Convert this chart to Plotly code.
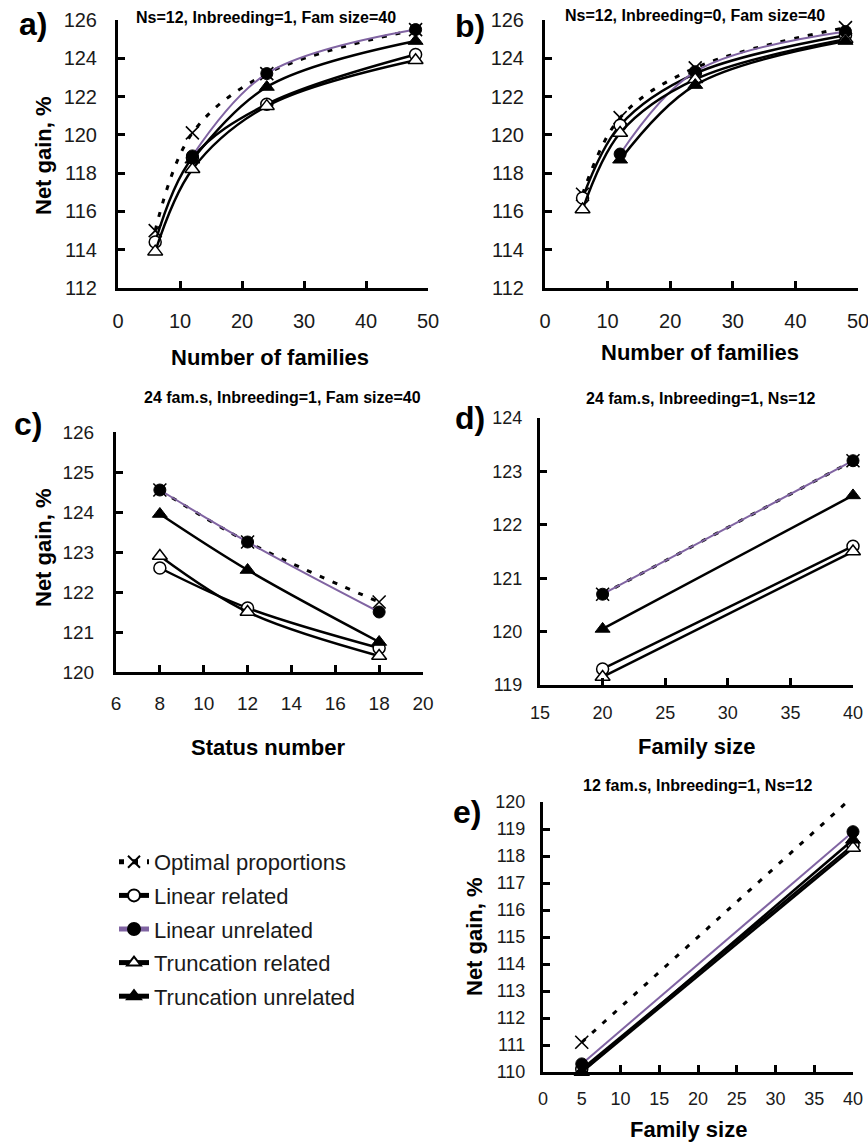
import plotly.graph_objects as go

# ---------------- data ----------------
series_names = ["Optimal proportions", "Linear related", "Linear unrelated",
                "Truncation related", "Truncation unrelated"]

# a) Ns=12, Inbreeding=1, Fam size=40
a_x = [6, 12, 24, 48]
a_optimal = [115.0, 120.1, 123.2, 125.5]
a_lin_rel = [114.4, 118.8, 121.6, 124.2]
a_lin_unrel = [None, 118.9, 123.2, 125.5]
a_trunc_rel = [113.9, 118.2, 121.5, 123.9]
a_trunc_unrel = [None, 118.7, 122.5, 124.9]

# b) Ns=12, Inbreeding=0, Fam size=40
b_x = [6, 12, 24, 48]
b_optimal = [116.9, 120.9, 123.5, 125.6]
b_lin_rel = [116.7, 120.5, 123.2, 125.2]
b_lin_unrel = [None, 119.0, 123.3, 125.4]
b_trunc_rel = [116.1, 120.1, 122.9, 125.0]
b_trunc_unrel = [None, 118.7, 122.6, 124.9]

# c) 24 fam.s, Inbreeding=1, Fam size=40
c_x = [8, 12, 18]
c_optimal = [124.55, 123.25, 121.75]
c_lin_rel = [122.6, 121.6, 120.6]
c_lin_unrel = [124.55, 123.25, 121.5]
c_trunc_rel = [122.9, 121.5, 120.4]
c_trunc_unrel = [123.95, 122.55, 120.75]

# d) 24 fam.s, Inbreeding=1, Ns=12
d_x = [20, 40]
d_optimal = [120.7, 123.2]
d_lin_rel = [119.3, 121.6]
d_lin_unrel = [120.7, 123.2]
d_trunc_rel = [119.15, 121.5]
d_trunc_unrel = [120.05, 122.55]

# e) 12 fam.s, Inbreeding=1, Ns=12
e_x = [5, 40]
e_optimal = [111.1, 120.2]
e_lin_rel = [110.1, 118.4]
e_lin_unrel = [110.3, 118.9]
e_trunc_rel = [110.0, 118.3]
e_trunc_unrel = [110.0, 118.6]

panel_titles = ["Ns=12, Inbreeding=1, Fam size=40",
                "Ns=12, Inbreeding=0, Fam size=40",
                "24 fam.s, Inbreeding=1, Fam size=40",
                "24 fam.s, Inbreeding=1, Ns=12",
                "12 fam.s, Inbreeding=1, Ns=12"]
panel_letters = ["a)", "b)", "c)", "d)", "e)"]
x_titles = ["Number of families", "Number of families", "Status number",
            "Family size", "Family size"]

# ---------------- styling ----------------
W, H = 868, 1144
PURPLE = "#8064a2"
BLACK = "#000000"
TXT = "#1a1a1a"
TICKFONT = "Liberation Sans Narrow, Arial Narrow, Liberation Sans, Arial, sans-serif"
FONT = "Liberation Sans, Arial, sans-serif"

styles = [
    dict(line=dict(color=BLACK, width=3, dash="5px,9px"),
         marker=dict(symbol="x-thin", size=13, color=BLACK,
                     line=dict(color=BLACK, width=1.6))),
    dict(line=dict(color=BLACK, width=2.5),
         marker=dict(symbol="circle", size=12, color="white",
                     line=dict(color=BLACK, width=1.5))),
    dict(line=dict(color=PURPLE, width=2),
         marker=dict(symbol="circle", size=12, color=BLACK,
                     line=dict(color=BLACK, width=1))),
    dict(line=dict(color=BLACK, width=2.5),
         marker=dict(symbol="triangle-up", size=13, color="white",
                     line=dict(color=BLACK, width=1.5))),
    dict(line=dict(color=BLACK, width=2.5),
         marker=dict(symbol="triangle-up", size=13, color=BLACK,
                     line=dict(color=BLACK, width=1))),
]

panels = [
    (a_x, [a_optimal, a_lin_rel, a_lin_unrel, a_trunc_rel, a_trunc_unrel]),
    (b_x, [b_optimal, b_lin_rel, b_lin_unrel, b_trunc_rel, b_trunc_unrel]),
    (c_x, [c_optimal, c_lin_rel, c_lin_unrel, c_trunc_rel, c_trunc_unrel]),
    (d_x, [d_optimal, d_lin_rel, d_lin_unrel, d_trunc_rel, d_trunc_unrel]),
    (e_x, [e_optimal, e_lin_rel, e_lin_unrel, e_trunc_rel, e_trunc_unrel]),
]

# pixel boxes in the page: (left, right, top, bottom)
boxes = [(118, 428, 20, 288), (545, 858, 20, 288), (116, 423, 432, 672),
         (540, 853, 418, 685), (543, 853, 802, 1072)]
x_ranges = [[0, 50], [0, 50], [6, 20], [15, 40], [0, 40]]
y_ranges = [[112, 126], [112, 126], [120, 126], [119, 124], [110, 120]]
x_dticks = [10, 10, 2, 5, 5]
y_dticks = [2, 2, 1, 1, 1]
tick_sizes = [20, 20, 19, 18, 18]
x_standoff = [13, 13, 12, 9, 8]
y_standoff = [14, 14, 15, 11, 11]


def fx(px):
    return px / W


def fy(py):
    return 1 - py / H


fig = go.Figure()
for p, (xs, ys_list) in enumerate(panels):
    xa = "x" if p == 0 else f"x{p+1}"
    ya = "y" if p == 0 else f"y{p+1}"
    for s, ys in enumerate(ys_list):
        clip = (p == 4 and s == 0)
        fig.add_trace(go.Scatter(
            x=xs, y=ys, mode="lines+markers", name=series_names[s],
            xaxis=xa, yaxis=ya, line_shape="spline",
            line=styles[s]["line"], marker=styles[s]["marker"],
            legendgroup=series_names[s], showlegend=(p == 0),
            cliponaxis=clip, connectgaps=False))

layout = dict(
    width=W, height=H, paper_bgcolor="white", plot_bgcolor="white",
    margin=dict(l=0, r=0, t=0, b=0), showlegend=True,
    font=dict(family=FONT, color=TXT),
    legend=dict(x=fx(114), y=fy(841), xanchor="left", yanchor="top",
                font=dict(size=22, family=FONT, color=TXT),
                tracegroupgap=2, itemsizing="constant",
                bgcolor="rgba(0,0,0,0)", borderwidth=0),
)
annotations = []
for p in range(5):
    l, r, t, b = boxes[p]
    xk = "xaxis" if p == 0 else f"xaxis{p+1}"
    yk = "yaxis" if p == 0 else f"yaxis{p+1}"
    ya = "y" if p == 0 else f"y{p+1}"
    xa = "x" if p == 0 else f"x{p+1}"
    common = dict(showgrid=False, zeroline=False, showline=True,
                  linecolor=BLACK, linewidth=3, ticks="inside", ticklen=7,
                  tickwidth=2.5, tickcolor=BLACK, automargin=False,
                  ticklabeloverflow="allow",
                  tickfont=dict(family=TICKFONT, size=tick_sizes[p], color=TXT))
    layout[xk] = dict(common, domain=[fx(l), fx(r)], range=x_ranges[p],
                      dtick=x_dticks[p], tick0=0, anchor=ya,
                      ticklabelstandoff=x_standoff[p])
    layout[yk] = dict(common, domain=[fy(b), fy(t)], range=y_ranges[p],
                      dtick=y_dticks[p], anchor=xa,
                      ticklabelstandoff=y_standoff[p])

# panel titles
title_pos = [(266, 18), (695, 15), (282, 397), (701, 398), (698, 785)]
for p in range(5):
    annotations.append(dict(text=f"<b>{panel_titles[p]}</b>", x=fx(title_pos[p][0]),
                            y=fy(title_pos[p][1]), xref="paper", yref="paper",
                            showarrow=False, xanchor="center", yanchor="middle",
                            font=dict(size=16, family=FONT, color=BLACK)))
# panel letters
letter_pos = [(33, 24), (470, 26), (28, 424), (470, 418), (467, 812)]
for p in range(5):
    annotations.append(dict(text=f"<b>{panel_letters[p]}</b>", x=fx(letter_pos[p][0]),
                            y=fy(letter_pos[p][1]), xref="paper", yref="paper",
                            showarrow=False, xanchor="center", yanchor="middle",
                            font=dict(size=32, family=FONT, color=BLACK)))
# x axis titles
xt_pos = [(270, 357), (700, 353), (268, 747), (696, 746), (688, 1129)]
for p in range(5):
    annotations.append(dict(text=f"<b>{x_titles[p]}</b>", x=fx(xt_pos[p][0]),
                            y=fy(xt_pos[p][1]), xref="paper", yref="paper",
                            showarrow=False, xanchor="center", yanchor="middle",
                            font=dict(size=22, family=FONT, color=BLACK)))
# y axis titles
yt_pos = [(43, 156), (44, 548), (474, 937)]
for (px, py) in yt_pos:
    annotations.append(dict(text="<b>Net gain, %</b>", x=fx(px), y=fy(py),
                            xref="paper", yref="paper", showarrow=False,
                            textangle=-90, xanchor="center", yanchor="middle",
                            font=dict(size=22, family=FONT, color=BLACK)))
layout["annotations"] = annotations
fig.update_layout(**layout)
fig.write_html(
    "out.html",
    config={"displayModeBar": False},
    post_script=("document.body.style.margin='0px';"
                 "document.body.style.overflow='hidden';"
                 "document.documentElement.style.overflow='hidden';"))
